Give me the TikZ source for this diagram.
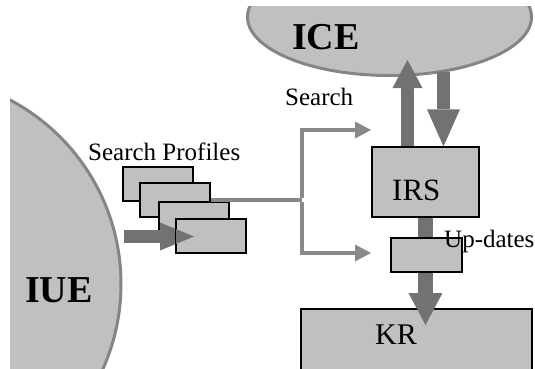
\documentclass[tikz,border=0pt]{standalone}
\usepackage{fontspec}
\setmainfont{Liberation Serif}
\usetikzlibrary{arrows.meta}
\definecolor{silver}{HTML}{C0C0C0}
\definecolor{rim}{HTML}{858585}
\definecolor{arrowgrey}{HTML}{727272}
\definecolor{linkgrey}{HTML}{898989}
\begin{document}
\begin{tikzpicture}[x=1pt,y=-1pt,
  card/.style={draw=black, line width=1.3pt, fill=silver, minimum width=70pt, minimum height=34pt, inner sep=0pt},
  box/.style={draw=black, line width=1.3pt, fill=silver, inner sep=0pt},
  blockarrow/.style={draw=arrowgrey, line width=13pt},
  link/.style={draw=linkgrey, line width=4pt, -{Triangle[width=17pt,length=16pt,line width=0pt]}},
  big/.style={font=\fontsize{38}{38}\selectfont\bfseries, inner sep=0pt, anchor=base west},
  mid/.style={font=\fontsize{31}{31}\selectfont, inner sep=0pt, anchor=base west},
  small/.style={font=\fontsize{25}{25}\selectfont, inner sep=0pt, anchor=base west}]
\useasboundingbox (0,0) rectangle (535,369);
\clip (0,0) rectangle (535,369);
% big shapes
\begin{scope}
  \clip (10,7) rectangle (535,369);
  \draw[rim, line width=3pt, fill=silver] (-87,284) circle [radius=208];
  \draw[rim, line width=3pt, fill=silver] (389.5,17) ellipse [x radius=142, y radius=58.5];
\end{scope}
% search profile cards
\node[card] (r1) at (158,184) {};
\node[card] (r2) at (175,200) {};
\node[card] (r3) at (194,219) {};
\node[card] (r4) at (211,236) {};
\coordinate (iueout) at (124,236.5);
\coordinate (proftip) at (194,236.5);
\draw[blockarrow, -{Triangle[width=28pt,length=34pt,line width=0pt]}] (iueout) -- (proftip);
\draw[black, line width=1.3pt] (r4.north west) rectangle (r4.south east);
% search links
\coordinate (fork) at (302,200);
\coordinate (srchtip) at (371,130);
\coordinate (updtip) at (371,253);
\draw[linkgrey, line width=4pt] (r2.east) -- (fork);
\draw[link] ([yshift=2pt]fork) |- (srchtip);
\draw[link] ([yshift=-2pt]fork) |- (updtip);
% IRS, KR
\node[box, minimum width=107pt, minimum height=70pt] (irs) at (425.5,182) {};
\node[box, minimum width=231pt, minimum height=100pt] (kr) at (416.5,359) {};
\coordinate (icetip) at (407.5,60);
\coordinate (icebot) at (443.5,72);
\coordinate (krtip) at (425.5,325);
\draw[blockarrow, -{Triangle[width=30pt,length=28pt,line width=0pt]}] (irs.north -| icetip) -- (icetip);
\draw[blockarrow, -{Triangle[width=33pt,length=37pt,line width=0pt]}] (icebot) -- (irs.north -| icebot);
\draw[blockarrow, line width=15pt, -{Triangle[width=34pt,length=32pt,line width=0pt]}] (irs.south -| krtip) -- (krtip);
\node[box, minimum width=71pt, minimum height=34pt] (upd) at (426.5,255) {};
% texts
\node[big] (icelabel) at (292,50) {ICE};
\node[big] (iuelabel) at (25,302) {IUE};
\node[mid] (irslabel) at (392,200) {IRS};
\node[mid, font=\fontsize{30}{30}\selectfont] (krlabel) at (375,344) {KR};
\node[small] (proflabel) at (88,160) {Search Profiles};
\node[small] (searchlabel) at (285,105) {Search};
\node[small] (updlabel) at (444,247) {Up-dates};
\end{tikzpicture}
\end{document}
